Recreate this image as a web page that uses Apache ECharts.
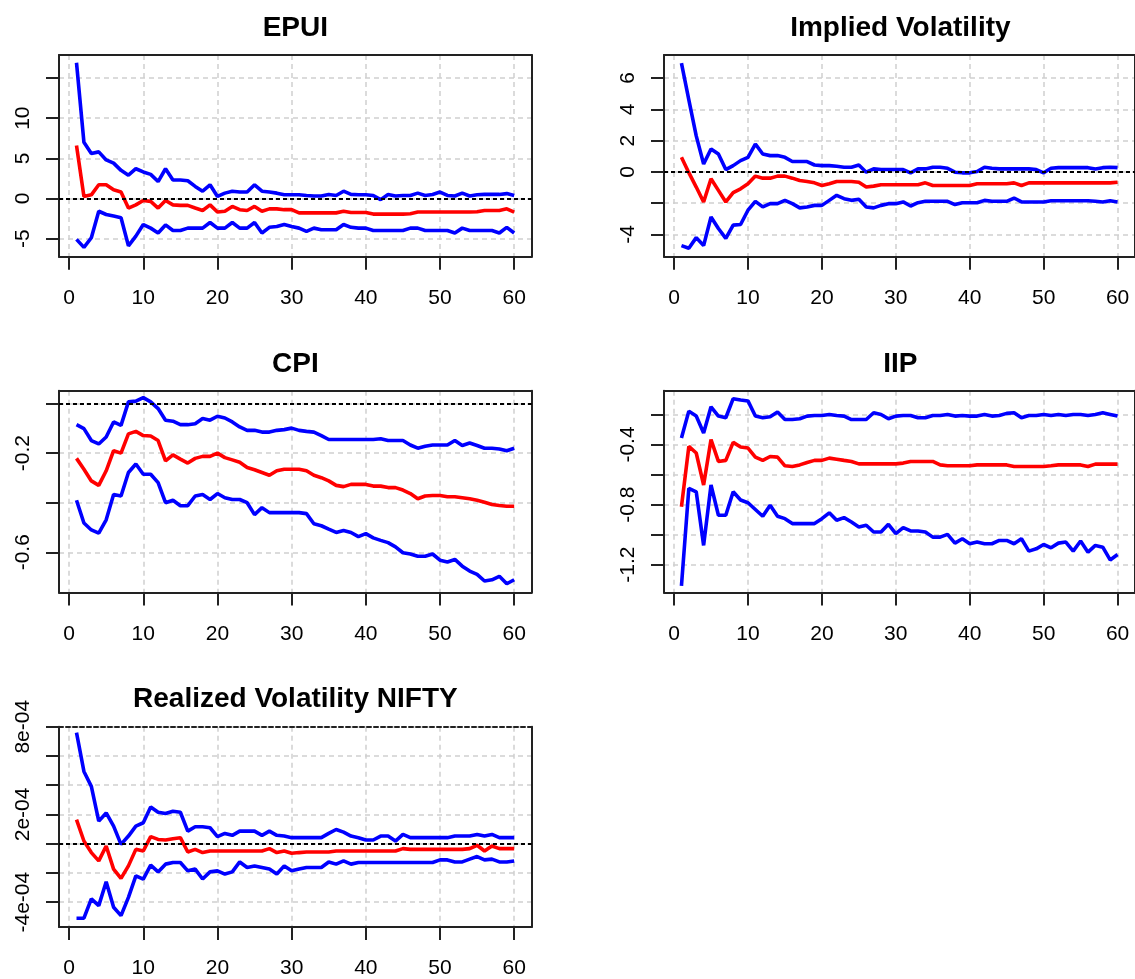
<!DOCTYPE html>
<html>
<head>
<meta charset="utf-8">
<title>IRF</title>
<script src="https://cdn.jsdelivr.net/npm/echarts@6/dist/echarts.min.js"></script>
<style>
html, body { margin: 0; padding: 0; background: #fff; }
#main { width: 1135px; height: 979px; }
</style>
</head>
<body>
<div id="main"></div>
<script>
// 横轴: 冲击期数
var horizon = [1,2,3,4,5,6,7,8,9,10,11,12,13,14,15,16,17,18,19,20,
  21,22,23,24,25,26,27,28,29,30,31,32,33,34,35,36,37,38,39,40,
  41,42,43,44,45,46,47,48,49,50,51,52,53,54,55,56,57,58,59,60];
var xTicks = [0, 10, 20, 30, 40, 50, 60];

// EPUI
var epuiUpper = [16.9,7.0,5.6,5.8,4.8,4.4,3.5,2.9,3.7,3.3,
  3.0,2.1,3.7,2.3,2.3,2.2,1.5,0.9,1.7,0.25,
  0.66,0.9,0.8,0.8,1.7,0.9,0.8,0.66,0.45,0.45,
  0.45,0.37,0.3,0.3,0.5,0.37,0.9,0.5,0.45,0.45,
  0.37,-0.15,0.5,0.3,0.37,0.37,0.66,0.37,0.5,0.8,
  0.37,0.3,0.66,0.3,0.45,0.5,0.5,0.5,0.6,0.37];
var epuiIrf = [6.6,0.25,0.45,1.7,1.7,1.07,0.8,-1.2,-0.8,-0.25,
  -0.37,-1.2,-0.25,-0.8,-0.86,-0.86,-1.2,-1.5,-0.8,-1.7,
  -1.6,-1.0,-1.4,-1.5,-1.0,-1.6,-1.3,-1.3,-1.4,-1.4,
  -1.8,-1.8,-1.8,-1.8,-1.8,-1.8,-1.6,-1.75,-1.75,-1.75,
  -1.95,-1.95,-1.95,-1.95,-1.95,-1.9,-1.7,-1.7,-1.7,-1.7,
  -1.7,-1.7,-1.7,-1.7,-1.65,-1.5,-1.5,-1.5,-1.3,-1.7];
var epuiLower = [-5.1,-6.1,-4.9,-1.6,-2.0,-2.2,-2.4,-5.9,-4.7,-3.25,
  -3.7,-4.3,-3.3,-4.0,-4.0,-3.7,-3.7,-3.7,-3.0,-3.7,
  -3.7,-3.0,-3.7,-3.7,-3.0,-4.3,-3.6,-3.5,-3.25,-3.5,
  -3.7,-4.1,-3.7,-3.9,-3.9,-3.9,-3.25,-3.6,-3.7,-3.7,
  -4.0,-4.0,-4.0,-4.0,-4.0,-3.7,-3.7,-4.0,-4.0,-4.0,
  -4.0,-4.3,-3.7,-4.0,-4.0,-4.0,-4.0,-4.3,-3.6,-4.3];
var epuiTicks = [-5, 0, 5, 10, 15];
var epuiLabels = [-5, 0, 5, 10];

// Implied Volatility
var ivUpper = [6.95,4.6,2.3,0.5,1.46,1.14,0.15,0.4,0.72,0.93,
  1.78,1.14,1.04,1.04,0.93,0.66,0.66,0.66,0.44,0.4,
  0.4,0.36,0.3,0.3,0.44,-0.02,0.19,0.15,0.15,0.15,
  0.15,-0.06,0.19,0.19,0.3,0.3,0.23,-0.02,-0.06,-0.06,
  0.02,0.3,0.23,0.19,0.19,0.19,0.19,0.19,0.15,-0.06,
  0.23,0.27,0.27,0.27,0.27,0.27,0.19,0.27,0.3,0.27];
var ivIrf = [0.93,-0.05,-0.97,-1.92,-0.44,-1.18,-1.92,-1.33,-1.08,-0.76,
  -0.27,-0.4,-0.4,-0.27,-0.27,-0.4,-0.55,-0.61,-0.7,-0.87,
  -0.76,-0.61,-0.61,-0.61,-0.66,-0.97,-0.91,-0.82,-0.82,-0.82,
  -0.82,-0.82,-0.82,-0.7,-0.87,-0.87,-0.87,-0.87,-0.87,-0.87,
  -0.76,-0.76,-0.76,-0.76,-0.76,-0.7,-0.87,-0.7,-0.7,-0.7,
  -0.7,-0.7,-0.7,-0.7,-0.7,-0.7,-0.7,-0.7,-0.7,-0.66];
var ivLower = [-4.71,-4.88,-4.2,-4.71,-2.88,-3.62,-4.25,-3.4,-3.36,-2.45,
  -1.88,-2.24,-2.03,-2.03,-1.82,-2.03,-2.3,-2.24,-2.14,-2.14,
  -1.82,-1.5,-1.71,-1.82,-1.75,-2.24,-2.3,-2.14,-2.03,-2.03,
  -1.92,-2.18,-1.97,-1.88,-1.88,-1.88,-1.88,-2.09,-1.97,-1.97,
  -1.97,-1.82,-1.88,-1.88,-1.88,-1.67,-1.92,-1.92,-1.92,-1.92,
  -1.84,-1.84,-1.84,-1.84,-1.84,-1.84,-1.88,-1.92,-1.84,-1.92];
var ivTicks = [-4, -2, 0, 2, 4, 6];
var ivLabels = [-4, 0, 2, 4, 6];

// CPI
var cpiUpper = [-0.085,-0.101,-0.149,-0.163,-0.135,-0.074,-0.088,0.007,0.01,0.024,
  0.007,-0.02,-0.067,-0.071,-0.085,-0.085,-0.081,-0.06,-0.067,-0.051,
  -0.058,-0.074,-0.094,-0.108,-0.108,-0.115,-0.115,-0.108,-0.105,-0.099,
  -0.108,-0.112,-0.115,-0.129,-0.145,-0.145,-0.145,-0.145,-0.145,-0.145,
  -0.145,-0.142,-0.149,-0.149,-0.149,-0.167,-0.18,-0.172,-0.167,-0.167,
  -0.167,-0.149,-0.169,-0.159,-0.169,-0.18,-0.18,-0.183,-0.19,-0.18];
var cpiIrf = [-0.221,-0.265,-0.312,-0.33,-0.271,-0.19,-0.2,-0.122,-0.112,-0.129,
  -0.131,-0.149,-0.231,-0.207,-0.224,-0.24,-0.221,-0.213,-0.213,-0.2,
  -0.218,-0.227,-0.237,-0.258,-0.267,-0.278,-0.289,-0.271,-0.265,-0.265,
  -0.265,-0.271,-0.289,-0.299,-0.312,-0.33,-0.335,-0.326,-0.326,-0.326,
  -0.333,-0.333,-0.339,-0.339,-0.349,-0.363,-0.384,-0.373,-0.371,-0.371,
  -0.376,-0.376,-0.38,-0.384,-0.39,-0.398,-0.407,-0.411,-0.414,-0.414];
var cpiLower = [-0.39,-0.482,-0.51,-0.523,-0.469,-0.367,-0.373,-0.278,-0.244,-0.285,
  -0.285,-0.319,-0.4,-0.39,-0.412,-0.412,-0.373,-0.367,-0.387,-0.363,
  -0.38,-0.387,-0.387,-0.4,-0.448,-0.42,-0.44,-0.44,-0.44,-0.44,
  -0.44,-0.444,-0.485,-0.493,-0.507,-0.52,-0.512,-0.52,-0.537,-0.525,
  -0.542,-0.552,-0.561,-0.578,-0.602,-0.607,-0.616,-0.616,-0.607,-0.632,
  -0.639,-0.629,-0.656,-0.676,-0.689,-0.716,-0.711,-0.697,-0.727,-0.711];
var cpiTicks = [-0.6, -0.4, -0.2, 0];
var cpiLabels = [-0.6, -0.2];

// IIP
var iipUpper = [-0.357,-0.178,-0.211,-0.323,-0.149,-0.211,-0.222,-0.095,-0.104,-0.11,
  -0.211,-0.222,-0.216,-0.184,-0.234,-0.234,-0.229,-0.211,-0.207,-0.207,
  -0.2,-0.207,-0.211,-0.234,-0.234,-0.234,-0.189,-0.2,-0.229,-0.211,
  -0.207,-0.207,-0.222,-0.222,-0.207,-0.207,-0.2,-0.211,-0.207,-0.211,
  -0.211,-0.2,-0.211,-0.207,-0.193,-0.189,-0.222,-0.207,-0.207,-0.2,
  -0.207,-0.2,-0.207,-0.2,-0.2,-0.207,-0.2,-0.189,-0.2,-0.211];
var iipIrf = [-0.815,-0.413,-0.457,-0.67,-0.368,-0.513,-0.506,-0.386,-0.417,-0.424,
  -0.484,-0.506,-0.48,-0.484,-0.542,-0.547,-0.536,-0.52,-0.506,-0.506,
  -0.491,-0.498,-0.506,-0.513,-0.529,-0.529,-0.529,-0.529,-0.529,-0.529,
  -0.524,-0.513,-0.513,-0.513,-0.513,-0.536,-0.542,-0.542,-0.542,-0.542,
  -0.536,-0.536,-0.536,-0.536,-0.536,-0.547,-0.547,-0.547,-0.547,-0.547,
  -0.542,-0.536,-0.536,-0.536,-0.536,-0.547,-0.531,-0.531,-0.531,-0.531];
var iipLower = [-1.341,-0.692,-0.715,-1.072,-0.67,-0.871,-0.871,-0.715,-0.77,-0.788,
  -0.833,-0.878,-0.804,-0.878,-0.894,-0.927,-0.927,-0.927,-0.927,-0.894,
  -0.855,-0.905,-0.887,-0.916,-0.949,-0.938,-0.983,-0.983,-0.932,-0.994,
  -0.954,-0.976,-0.976,-0.983,-1.017,-1.017,-0.999,-1.057,-1.028,-1.061,
  -1.05,-1.061,-1.061,-1.039,-1.039,-1.061,-1.028,-1.11,-1.095,-1.066,
  -1.088,-1.057,-1.05,-1.11,-1.043,-1.117,-1.072,-1.084,-1.169,-1.133];
var iipTicks = [-1.2, -1.0, -0.8, -0.6, -0.4, -0.2];
var iipLabels = [-1.2, -0.8, -0.4];

// Realized Volatility NIFTY
var rvUpper = [7.59e-4,4.94e-4,3.92e-4,1.54e-4,2.1e-4,1.2e-4,-0.05e-4,0.52e-4,1.2e-4,1.43e-4,
  2.51e-4,2.15e-4,2.06e-4,2.22e-4,2.15e-4,0.86e-4,1.16e-4,1.16e-4,1.09e-4,0.48e-4,
  0.7e-4,0.57e-4,0.86e-4,0.86e-4,0.86e-4,0.57e-4,0.86e-4,0.57e-4,0.52e-4,0.41e-4,
  0.41e-4,0.41e-4,0.41e-4,0.41e-4,0.7e-4,0.97e-4,0.79e-4,0.52e-4,0.41e-4,0.25e-4,
  0.25e-4,0.52e-4,0.52e-4,0.18e-4,0.63e-4,0.41e-4,0.41e-4,0.41e-4,0.41e-4,0.41e-4,
  0.41e-4,0.52e-4,0.52e-4,0.52e-4,0.63e-4,0.52e-4,0.63e-4,0.41e-4,0.41e-4,0.41e-4];
var rvIrf = [1.65e-4,0.18e-4,-0.61e-4,-1.18e-4,-0.16e-4,-1.74e-4,-2.38e-4,-1.52e-4,-0.39e-4,-0.5e-4,
  0.48e-4,0.29e-4,0.25e-4,0.34e-4,0.41e-4,-0.57e-4,-0.39e-4,-0.61e-4,-0.5e-4,-0.5e-4,
  -0.5e-4,-0.5e-4,-0.5e-4,-0.5e-4,-0.5e-4,-0.5e-4,-0.34e-4,-0.61e-4,-0.5e-4,-0.66e-4,
  -0.61e-4,-0.57e-4,-0.57e-4,-0.57e-4,-0.57e-4,-0.5e-4,-0.5e-4,-0.5e-4,-0.5e-4,-0.5e-4,
  -0.5e-4,-0.5e-4,-0.5e-4,-0.5e-4,-0.34e-4,-0.39e-4,-0.39e-4,-0.39e-4,-0.39e-4,-0.39e-4,
  -0.39e-4,-0.39e-4,-0.39e-4,-0.34e-4,-0.11e-4,-0.5e-4,-0.16e-4,-0.34e-4,-0.34e-4,-0.34e-4];
var rvLower = [-5.1e-4,-5.1e-4,-3.78e-4,-4.24e-4,-2.6e-4,-4.35e-4,-4.92e-4,-3.67e-4,-2.2e-4,-2.42e-4,
  -1.47e-4,-1.93e-4,-1.4e-4,-1.29e-4,-1.29e-4,-1.86e-4,-1.74e-4,-2.42e-4,-1.93e-4,-1.86e-4,
  -2.08e-4,-1.93e-4,-1.25e-4,-1.63e-4,-1.52e-4,-1.63e-4,-1.74e-4,-2.08e-4,-1.52e-4,-1.86e-4,
  -1.74e-4,-1.63e-4,-1.63e-4,-1.63e-4,-1.25e-4,-1.4e-4,-1.18e-4,-1.4e-4,-1.29e-4,-1.29e-4,
  -1.29e-4,-1.29e-4,-1.29e-4,-1.29e-4,-1.29e-4,-1.29e-4,-1.29e-4,-1.29e-4,-1.29e-4,-1.11e-4,
  -1.11e-4,-1.25e-4,-1.25e-4,-1.06e-4,-0.88e-4,-1.11e-4,-1.06e-4,-1.25e-4,-1.25e-4,-1.18e-4];
var rvTicks = [-4e-4, -2e-4, 0, 2e-4, 4e-4, 6e-4, 8e-4];
var rvLabels = [-4e-4, 2e-4, 8e-4];

var showCharts = function() {
  var font = '"Liberation Sans", Arial, sans-serif';
  var boxColor = '#222';
  var boxW = 472.7, boxH = 201.7;

  // 各子图的位置与范围
  var panels = [
    {title: 'EPUI', left: 59, top: 55, yMin: -7.26, yMax: 17.87, upper: epuiUpper, irf: epuiIrf, lower: epuiLower, ticks: epuiTicks, labels: epuiLabels, zero: true},
    {title: 'Implied Volatility', left: 664, top: 55, yMin: -5.42, yMax: 7.47, upper: ivUpper, irf: ivIrf, lower: ivLower, ticks: ivTicks, labels: ivLabels, zero: true},
    {title: 'CPI', left: 59, top: 390.85, yMin: -0.7626, yMax: 0.0515, upper: cpiUpper, irf: cpiIrf, lower: cpiLower, ticks: cpiTicks, labels: cpiLabels, zero: true},
    {title: 'IIP', left: 664, top: 390.85, yMin: -1.386, yMax: -0.043, upper: iipUpper, irf: iipIrf, lower: iipLower, ticks: iipTicks, labels: iipLabels, zero: false},
    {title: 'Realized Volatility NIFTY', left: 59, top: 726.7, yMin: -5.7e-4, yMax: 8.0e-4, upper: rvUpper, irf: rvIrf, lower: rvLower, ticks: rvTicks, labels: rvLabels, zero: true, sci: true, topDotted: true}
  ];

  var option = {
    animation: false,
    backgroundColor: '#fff',
    title: [], grid: [], xAxis: [], yAxis: [], series: []
  };

  var toPairs = function(arr) {
    var out = [];
    for (var i = 0; i < horizon.length; i++) {
      out.push([horizon[i], arr[i]]);
    }
    return out;
  };

  var sciFmt = function(v) {
    return v.toExponential(0).replace(/e([+-])(\d)$/, 'e$10$2');
  };

  var edgeAxis = function(i, pos, min, max, dotted) {
    return {
      gridIndex: i, type: 'value', position: pos, min: min, max: max,
      axisLine: {show: true, onZero: false, lineStyle: {color: boxColor, width: 2, type: dotted ? [4, 3] : 'solid'}},
      axisTick: {show: false}, axisLabel: {show: false}, splitLine: {show: false}
    };
  };

  var gridLine = {show: true, lineStyle: {color: '#d0d0d0', width: 1.5, type: [5, 4]}};

  for (var i = 0; i < panels.length; i++) {
    var p = panels[i];
    option.title.push({
      text: p.title, left: p.left + boxW / 2, top: p.top - 41, textAlign: 'center', padding: 0,
      textStyle: {fontFamily: font, fontSize: 28, fontWeight: 'bold', color: '#000'}
    });
    option.grid.push({left: p.left, top: p.top, width: boxW, height: boxH, show: false});

    option.xAxis.push({
      gridIndex: i, type: 'value', position: 'bottom', min: -1.36, max: 62.36,
      axisLine: {show: true, onZero: false, lineStyle: {color: boxColor, width: 2}},
      axisTick: {show: true, customValues: xTicks, length: 13, lineStyle: {color: boxColor, width: 2}},
      axisLabel: {customValues: xTicks, margin: 31, fontSize: 21, fontFamily: font, color: '#000'},
      splitLine: gridLine
    });
    option.xAxis.push(edgeAxis(i, 'top', -1.36, 62.36, p.topDotted));

    option.yAxis.push({
      gridIndex: i, type: 'value', position: 'left', min: p.yMin, max: p.yMax,
      axisLine: {show: true, onZero: false, lineStyle: {color: boxColor, width: 2}},
      axisTick: {show: true, customValues: p.ticks, length: 13, lineStyle: {color: boxColor, width: 2}},
      axisLabel: {customValues: p.labels, rotate: 90, margin: 25, fontSize: 21, fontFamily: font, color: '#000',
        formatter: p.sci ? sciFmt : null},
      splitLine: gridLine
    });
    option.yAxis.push(edgeAxis(i, 'right', p.yMin, p.yMax, false));

    var lineOf = function(name, data, color) {
      return {
        name: name, type: 'line', xAxisIndex: 2 * i, yAxisIndex: 2 * i,
        data: toPairs(data), showSymbol: false, symbol: 'none',
        lineStyle: {color: color, width: 3.6}, z: 3
      };
    };
    var irfSeries = lineOf(p.title + ' irf', p.irf, '#ff0000');
    if (p.zero) {
      //零线
      irfSeries.markLine = {
        silent: true, symbol: ['none', 'none'], label: {show: false},
        lineStyle: {color: '#000', width: 2, type: [4, 3]},
        data: [{yAxis: 0}]
      };
    }
    option.series.push(lineOf(p.title + ' upper', p.upper, '#0000ff'));
    option.series.push(irfSeries);
    option.series.push(lineOf(p.title + ' lower', p.lower, '#0000ff'));
  }

  var myChart = echarts.init(document.getElementById('main'));
  myChart.setOption(option);
};
showCharts();
</script>
</body>
</html>
